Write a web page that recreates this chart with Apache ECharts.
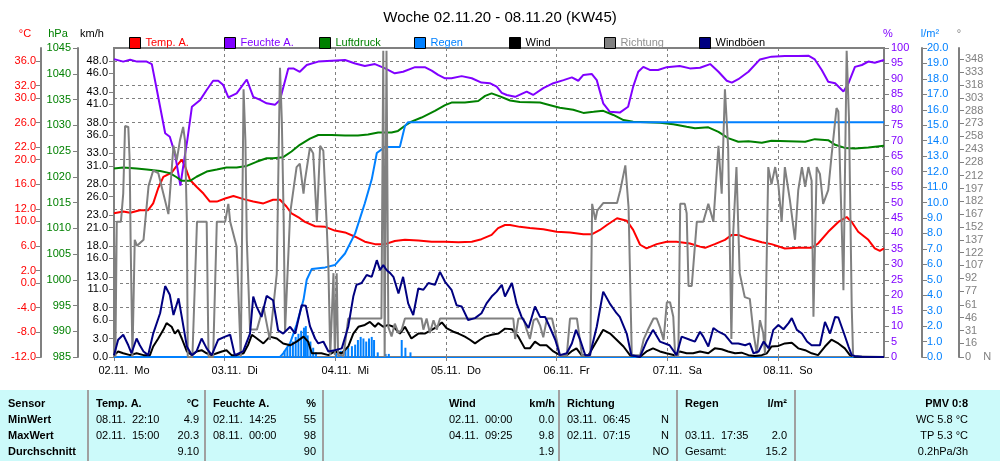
<!DOCTYPE html>
<html lang="de">
<head>
<meta charset="UTF-8">
<title>Woche 02.11.20 - 08.11.20 (KW45)</title>
<script src="https://cdn.jsdelivr.net/npm/echarts@6/dist/echarts.min.js"></script>
<style>
  html, body { margin: 0; padding: 0; background: #fff; }
  #chart { width: 1000px; height: 461px; }
</style>
</head>
<body>
<div id="chart"></div>
<script>
// x = Stunden ab 02.11. 00:00
var dayLabels = ['02.11.  Mo', '03.11.  Di', '04.11.  Mi', '05.11.  Do', '06.11.  Fr', '07.11.  Sa', '08.11.  So'];

// Achsen-Beschriftungen
var tempTicks = [36, 32, 30, 26, 22, 20, 16, 12, 10, 6, 2, 0, -4, -8, -12];
var windTicks = [0, 3, 6, 8, 11, 13, 16, 18, 21, 23, 26, 28, 31, 33, 36, 38, 41, 43, 46, 48];
var dirTicks = [0, 16, 31, 46, 61, 77, 92, 107, 122, 137, 152, 167, 182, 197, 212, 228, 243, 258, 273, 288, 303, 318, 333, 348];

// Temp. A. (°C)
var temperature = [[0,11.3],[2,11.6],[3.5,11.4],[5.6,11.8],[7.4,11.8],[8.5,12.9],[9.6,15.4],[10.7,17.2],[12.5,17.9],[13.6,19.0],[14.7,20.0],[15.4,18.9],[16.5,16.7],[17.9,15.6],[19.4,14.5],[20.8,13.2],[22.3,13.2],[24.1,13.7],[25.9,14.1],[28.1,13.6],[30.2,13.2],[32.4,12.9],[34.5,13.5],[36,13.5],[37.4,12.4],[38.5,11.3],[40.3,10.5],[41.4,9.9],[43.6,9.2],[45.8,9.1],[47.9,8.5],[50.1,8.2],[52.3,7.5],[54.4,6.7],[56.6,6.3],[58.8,6.3],[60.9,6.8],[63.1,7.0],[66,6.9],[68.9,6.7],[71.8,6.7],[74.7,6.6],[77.6,6.7],[79.7,7.1],[81.9,7.8],[83.3,8.9],[84.8,9.4],[85.9,9.4],[88,9.1],[90.2,8.9],[93.1,8.7],[96,8.3],[98.9,8.2],[101.8,7.9],[103.6,7.9],[105.4,8.6],[106.9,9.4],[109.1,10.5],[111.2,10.1],[112.6,8.6],[114.1,6.2],[115.5,5.6],[117.7,6.3],[119.9,6.7],[122,6.7],[124.9,6.4],[127.1,5.9],[128.2,5.7],[130.3,6.3],[132.5,7.0],[134,7.8],[135.4,7.8],[137.6,7.2],[140.5,6.6],[142.6,6.3],[145.5,5.6],[148.4,5.7],[151.3,5.7],[152.7,6.4],[154.9,8.3],[157.1,9.9],[158.9,10.7],[160,9.9],[161.4,8.3],[163.6,7.0],[165,5.6],[166.1,5.2],[167,5.6]];

// Feuchte A. (%)
var humidity = [[0,96.4],[2,95.6],[3.5,96.2],[5,95.6],[7.1,95.6],[8.2,94.8],[9.3,86.4],[11.1,72.4],[12.1,71.3],[13.2,65.9],[14.4,55.5],[15,61.6],[15.9,70.2],[16.9,81.0],[18.7,83.2],[20.1,86.4],[21.5,89.4],[22.6,89.4],[23.7,88.0],[24.8,84.0],[26.6,85.3],[28.8,89.8],[30.2,84.2],[31.7,83.2],[33.1,82.1],[34.9,81.6],[36,83.2],[37.8,93.4],[38.9,93.4],[40.3,92.3],[41.8,94.5],[44.3,95.6],[47.2,95.9],[50.1,96.1],[52.3,95.0],[54.4,94.2],[56.6,94.8],[58.8,93.4],[60.9,91.8],[62.7,92.3],[65.3,93.8],[67.4,93.8],[68.9,92.7],[70.3,91.3],[71.8,90.2],[73.2,90.2],[75.4,90.9],[77.6,90.2],[79.7,88.8],[81.5,88.6],[83,87.5],[84.1,85.5],[85.2,84.8],[87,84.2],[89.5,85.9],[90.9,84.8],[93.1,87.0],[95.3,88.6],[97.5,89.6],[99.3,90.5],[100.7,89.4],[101.8,91.3],[103.6,91.6],[104.7,89.6],[106.1,82.1],[107.5,79.4],[109.7,79.1],[111.5,81.0],[112.6,87.5],[113.7,92.3],[114.8,93.9],[116.2,92.9],[118,92.9],[119.9,93.8],[122.7,94.2],[124.9,93.4],[127.1,93.6],[129.3,94.8],[131.1,92.3],[132.9,89.4],[134,88.8],[135.4,89.9],[137.6,92.3],[140.1,96.3],[142.6,97.2],[145.5,97.4],[148.4,97.4],[150.6,97.5],[152,96.3],[153.5,92.9],[154.9,89.1],[156.4,88.6],[158.2,85.9],[159.3,88.6],[160.7,93.9],[162.2,94.5],[163.6,95.6],[165,95.2],[167,96.1]];

// Luftdruck (hPa)
var pressure = [[0,1021.6],[2,1021.8],[4.9,1021.6],[7.1,1021.4],[10,1021.1],[12.1,1020.7],[13.6,1019.9],[14.7,1019.2],[16.5,1019.2],[17.9,1020.0],[20.1,1021.0],[22.3,1021.4],[24.4,1021.8],[26.6,1021.8],[28.8,1022.1],[30.9,1022.9],[33.1,1023.6],[34.5,1023.6],[36.7,1023.8],[38.5,1024.9],[40.3,1026.2],[42.5,1027.4],[44.3,1028.1],[47.2,1028.1],[50.1,1028.0],[52.9,1028.0],[55.1,1028.2],[57.3,1028.6],[60.2,1028.6],[61.6,1028.9],[63.1,1029.9],[64.5,1030.7],[66.7,1031.5],[69.6,1032.8],[71.8,1033.9],[73.2,1034.4],[76.1,1034.4],[79,1034.7],[80.5,1035.7],[81.9,1036.2],[83.7,1035.6],[85.9,1034.8],[88,1034.5],[92.4,1034.4],[94.6,1033.9],[96.7,1033.4],[99.6,1033.0],[101.8,1032.4],[104,1032.6],[106.1,1032.8],[108.3,1032.0],[110.5,1031.0],[112.6,1030.7],[115.5,1030.6],[118.4,1030.5],[121.3,1030.2],[124.2,1029.7],[126,1029.4],[128.9,1029.6],[131.1,1028.7],[133.2,1027.5],[135.4,1026.8],[137.6,1026.9],[140.5,1026.6],[142.6,1027.0],[146.2,1026.9],[149.9,1026.8],[152,1027.3],[154.9,1027.1],[156.4,1026.2],[158.5,1025.6],[160.7,1025.5],[163.6,1025.7],[167,1026.0]];

// Regen Summe (l/m²)
var rainSum = [[0,0],[36,0],[36.7,0.24],[38.2,0.9],[39.6,2.1],[41.1,3.7],[41.8,5.0],[42.9,5.7],[45.8,5.8],[47.9,5.95],[50.1,6.7],[52.3,8.0],[54.4,9.95],[55.9,11.5],[57,13.2],[58.8,13.6],[62,13.6],[63.1,14.95],[63.8,15.2],[167,15.2]];

// Regen je Intervall
var rainRate = [[37.0,0.4],[37.6,0.6],[38.2,0.8],[38.8,1.0],[39.4,1.3],[40.0,1.5],[40.6,1.7],[41.2,1.9],[41.6,2.0],[42.0,1.4],[42.6,1.0],[43.2,0.6],[43.8,0.3],[48.2,0.3],[49.2,0.4],[50.2,0.5],[50.8,0.6],[51.6,0.7],[52.3,0.8],[52.9,1.1],[53.5,1.3],[54.1,1.2],[54.7,1.0],[55.3,1.2],[55.9,1.3],[56.4,1.1],[57.2,0.3],[58.9,0.2],[59.6,0.2],[62.4,1.1],[63.2,0.6],[64.3,0.3]];

// Wind (km/h)
var wind = [[0,0.3],[0.9,0.9],[2,0.6],[3.5,0.3],[4.9,0.6],[6.4,0.3],[7.8,0.3],[8.5,1.7],[9.6,3.0],[10.7,4.4],[11.4,5.5],[12.5,4.9],[13.2,3.8],[13.9,4.4],[14.7,3.0],[15.8,0.9],[16.9,0.3],[17.9,0.9],[19,1.1],[20.1,0.6],[21.2,0.3],[22.3,0.6],[23.4,0.9],[24.4,1.1],[25.5,0.3],[26.6,0.3],[28.1,0.6],[29.1,2.0],[29.9,3.6],[31,3.0],[32.4,2.2],[33.8,3.3],[35.3,3.0],[36.7,2.2],[38.2,1.9],[39.6,2.5],[41.1,3.3],[42.1,2.5],[42.9,0.6],[45,0.6],[46.5,0.3],[47.9,0.9],[49.4,0.6],[50.8,1.7],[51.9,3.8],[53,4.9],[54.4,5.2],[55.5,5.7],[56.6,4.9],[57.3,5.5],[58.4,4.9],[59.5,5.2],[60.6,4.9],[62,3.8],[63.1,4.9],[64.5,3.0],[66,3.8],[67.4,3.8],[68.9,4.4],[70,4.9],[71.1,5.6],[72.1,4.7],[73.6,4.1],[74.7,3.8],[76.1,3.3],[77.2,2.8],[78.3,2.2],[79.4,2.8],[80.5,3.3],[81.9,3.6],[83.4,3.8],[84.8,4.6],[86.3,4.5],[87.7,3.3],[89.1,1.4],[90.2,1.4],[91.3,2.5],[92.4,1.9],[93.8,1.9],[95.3,0.9],[96.7,0.3],[98.2,0.3],[99.2,0.9],[100.3,1.4],[101.4,0.3],[102.9,0.3],[104,1.7],[105,3.0],[106.1,4.4],[107.6,3.8],[109,2.8],[110.5,1.7],[111.9,0.3],[114.1,0.05],[115.5,0.9],[116.9,1.4],[118.4,0.9],[119.8,0.6],[121.6,0.3],[122.7,0.9],[124.2,0.6],[125.6,0.6],[127.1,0.9],[128.9,0.6],[130.3,1.4],[131.8,1.25],[133.2,0.9],[134.7,0.6],[136.1,0.7],[137.6,0.3],[139,0.16],[140.5,0.3],[141.6,0.6],[142.6,1.7],[144.1,1.8],[145.5,2.2],[147,2.3],[148.4,1.4],[149.9,1.1],[151.3,0.6],[152.7,0.3],[154.2,1.7],[155.6,2.8],[157.1,2.2],[158.5,1.4],[159.6,0.3],[160.7,0.05],[162.2,0.05],[167,0]];

// Windböen (km/h)
var gusts = [[0,0.3],[0.9,2.8],[2,3.6],[3.1,1.9],[3.8,0.6],[4.9,3.0],[5.6,1.9],[6.4,0.9],[7.4,0.3],[8.5,3.8],[10,7.1],[11.1,11.5],[12.1,10.1],[12.9,6.8],[14,9.5],[14.7,6.5],[15.8,1.7],[16.9,0.3],[17.9,0.9],[19,3.0],[20.1,1.4],[21.2,0.3],[22.6,2.8],[24.1,3.3],[25.2,3.6],[26.2,0.3],[28,0.9],[29.5,3.8],[30.2,9.8],[30.9,8.2],[32,6.5],[33.1,9.9],[34.5,9.2],[35.6,4.3],[36.7,3.8],[38.2,4.9],[39.3,3.8],[40.7,8.4],[41.6,8.3],[42.5,5.0],[43.6,3.0],[44.3,2.2],[45.4,2.5],[46.5,0.9],[47.9,1.1],[49.4,1.4],[50.8,4.9],[51.9,9.8],[52.6,11.7],[53.7,12.0],[54.8,13.3],[55.9,13.0],[57,15.7],[57.7,14.1],[58.4,14.9],[59.1,14.1],[59.9,13.6],[60.6,13.0],[61.7,10.3],[62.7,13.0],[63.8,8.7],[64.9,6.8],[66,11.1],[67.1,10.9],[68.2,12.0],[69.6,11.7],[70.7,13.8],[71.8,12.2],[73.2,10.9],[74.3,8.4],[75.4,8.2],[76.8,6.0],[78.3,6.3],[79.7,7.1],[80.8,8.7],[81.9,9.8],[83,10.6],[84.1,11.7],[84.8,9.8],[86.3,12.0],[87.3,8.7],[88.4,6.5],[89.9,4.7],[91.3,8.2],[92.4,6.5],[93.5,6.5],[94.6,4.7],[95.7,2.8],[96.7,0.3],[98.2,0.6],[99.3,2.2],[100.2,4.4],[101.1,2.8],[102.2,0.3],[103.2,0.3],[104.7,4.9],[106.1,10.6],[107.5,8.7],[109,7.1],[109.7,6.5],[111.2,3.8],[112.2,0.3],[114.1,0.05],[115.5,2.5],[116.9,4.4],[118.4,2.5],[120.5,1.9],[122,0.3],[123.1,3.3],[124.9,2.8],[126,2.5],[127.1,4.1],[127.8,3.3],[128.9,1.7],[130,4.7],[131.1,4.1],[132.5,3.6],[134,2.2],[135.4,2.2],[136.9,1.9],[137.9,2.2],[138.7,0.6],[139.8,0.9],[140.9,2.5],[142,1.4],[143,4.4],[144.1,5.2],[145.2,4.5],[146.3,5.5],[147,6.3],[148.1,4.4],[149.2,3.8],[150.3,2.5],[151.3,1.9],[153.1,1.9],[154.2,5.7],[155.3,3.8],[156.4,6.5],[157.1,6.4],[158.2,4.1],[159.3,1.7],[160,0.3],[160.7,0.16],[162.2,0.05],[167,0]];

// Richtung (°)
var direction = [[0,158],[0.3,0],[0.6,158],[1.5,158],[2.0,191],[2.4,270],[3.1,269],[3.4,230],[3.6,137],[4.0,0],[4.5,137],[5.0,130],[6.4,137],[7.5,200],[8.5,218],[9.6,215],[10.7,191],[11.8,167],[12.5,218],[12.9,247],[13.6,230],[14.3,253],[15.0,269],[15.4,253],[15.8,160],[16.0,0],[17.0,0],[18.0,158],[20.1,158],[20.5,0],[21.5,0],[22.3,158],[24.1,158],[24.5,170],[24.8,179],[25.2,158],[26.6,129],[27.5,0],[28.1,313],[28.5,253],[28.8,137],[29.5,32],[31.0,32],[32.4,59],[33.8,20],[35.3,97],[36.0,338],[36.4,276],[36.8,160],[37.1,30],[38.2,168],[39.6,222],[40.3,226],[41.1,191],[41.4,206],[42.5,245],[43.2,238],[44.0,158],[44.7,247],[45.4,241],[46.1,158],[46.5,105],[46.9,2],[47.6,98],[47.9,2],[48.3,98],[48.6,2],[49.8,2],[50.8,45],[58.0,45],[58.4,358],[58.7,0],[59.1,358],[59.5,35],[60.2,24],[60.9,39],[61.7,28],[62.4,32],[63.1,45],[66.7,45],[67.1,32],[67.8,45],[68.5,28],[69.3,43],[70.0,32],[70.7,45],[84.8,45],[86.6,45],[87,21],[87.7,45],[88.8,45],[89.5,32],[90.2,21],[91,43],[91.7,45],[92.4,37],[93.1,23],[93.9,45],[95,45],[95.7,28],[96.7,2],[98.2,2],[98.9,45],[100.4,45],[101.5,2],[103.3,2],[103.7,179],[104.4,160],[104.8,171],[106.1,180],[109.1,180],[109.8,195],[110.9,224],[111.2,224],[111.6,175],[112.3,2],[114.1,2],[114.9,21],[115.9,33],[117,45],[117.7,45],[118.4,35],[119.2,20],[119.9,64],[120.6,64],[121.3,47],[121.7,2],[122.4,2],[122.8,179],[123.8,179],[124.2,168],[124.6,83],[125.3,83],[125.7,110],[126.4,158],[126.8,156],[127.8,158],[128.9,179],[130,158],[131.1,247],[131.8,191],[132.5,313],[132.9,315],[133.2,245],[133.9,21],[134.3,145],[135,222],[135.7,98],[136.8,70],[137.9,68],[138.7,28],[139.4,4],[140.1,43],[140.8,28],[141.2,4],[141.9,222],[142.6,202],[143.4,222],[144.1,201],[144.8,158],[145.5,222],[146.6,183],[147.7,137],[148.4,195],[149.2,222],[149.9,199],[150.6,222],[151.3,206],[151.7,47],[152.4,222],[153.1,214],[153.8,179],[154.9,195],[155.6,234],[156.7,291],[157.1,287],[157.8,158],[158.2,78],[158.5,200],[158.9,358],[159.4,280],[160,59],[160.3,0]];

var legendNames = ['Temp. A.', 'Feuchte A.', 'Luftdruck', 'Regen', 'Wind', 'Richtung', 'Windböen'];
var legendText = ['#ff0000', '#8000ff', '#008000', '#0080ff', '#000000', '#909090', '#000000'];

var chartDom = document.getElementById('chart');
var myChart = echarts.init(chartDom, null, {renderer: 'canvas'});

var FONT = 'Liberation Sans';
var axisGray = '#808080';

function lineSeries(name, data, color, yIdx) {
    return {
        name: name,
        type: 'line',
        data: data,
        yAxisIndex: yIdx,
        symbol: 'none',
        smooth: false,
        itemStyle: {color: color},
        lineStyle: {color: color, width: 2},
        emphasis: {disabled: true}
    };
}

function yAxis(pos, offset, min, max, color, name, nameShift, extra) {
    var ax = {
        type: 'value',
        position: pos,
        offset: offset,
        min: min,
        max: max,
        name: name,
        nameLocation: 'end',
        nameGap: 9,
        nameTextStyle: {
            color: color, fontSize: 11, fontFamily: FONT,
            padding: nameShift < 0 ? [0, -2 * nameShift, 0, 0] : [0, 0, 0, 2 * nameShift]
        },
        axisLine: {show: true, lineStyle: {color: axisGray, width: 2}},
        axisTick: {show: true, length: 5, lineStyle: {color: axisGray, width: 1}},
        axisLabel: {color: color, fontSize: 11, fontFamily: FONT, margin: 6},
        splitLine: {show: false}
    };
    for (var k in extra) {
        if (typeof extra[k] === 'object' && ax[k]) {
            for (var j in extra[k]) ax[k][j] = extra[k][j];
        } else {
            ax[k] = extra[k];
        }
    }
    return ax;
}

// Tabelle unten
var rowY = [404, 420, 436, 452];
var tableCells = [
    // [text, x, row, align, bold]
    ['Sensor', 8, 0, 'left', true], ['MinWert', 8, 1, 'left', true], ['MaxWert', 8, 2, 'left', true], ['Durchschnitt', 8, 3, 'left', true],
    ['Temp. A.', 96, 0, 'left', true], ['°C', 199, 0, 'right', true],
    ['08.11.  22:10', 96, 1, 'left'], ['4.9', 199, 1, 'right'],
    ['02.11.  15:00', 96, 2, 'left'], ['20.3', 199, 2, 'right'],
    ['9.10', 199, 3, 'right'],
    ['Feuchte A.', 213, 0, 'left', true], ['%', 316, 0, 'right', true],
    ['02.11.  14:25', 213, 1, 'left'], ['55', 316, 1, 'right'],
    ['08.11.  00:00', 213, 2, 'left'], ['98', 316, 2, 'right'],
    ['90', 316, 3, 'right'],
    ['Wind', 449, 0, 'left', true], ['km/h', 555, 0, 'right', true],
    ['02.11.  00:00', 449, 1, 'left'], ['0.0', 554, 1, 'right'],
    ['04.11.  09:25', 449, 2, 'left'], ['9.8', 554, 2, 'right'],
    ['1.9', 554, 3, 'right'],
    ['Richtung', 567, 0, 'left', true],
    ['03.11.  06:45', 567, 1, 'left'], ['N', 669, 1, 'right'],
    ['02.11.  07:15', 567, 2, 'left'], ['N', 669, 2, 'right'],
    ['NO', 669, 3, 'right'],
    ['Regen', 685, 0, 'left', true], ['l/m²', 787, 0, 'right', true],
    ['03.11.  17:35', 685, 2, 'left'], ['2.0', 787, 2, 'right'],
    ['Gesamt:', 685, 3, 'left'], ['15.2', 787, 3, 'right'],
    ['PMV 0:8', 968, 0, 'right', true], ['WC 5.8 °C', 968, 1, 'right'],
    ['TP 5.3 °C', 968, 2, 'right'], ['0.2hPa/3h', 968, 3, 'right']
];
var tableSeparators = [88, 205, 323, 559, 677, 795];

var graphics = [{
    type: 'rect', silent: true, z: 0,
    shape: {x: 0, y: 390, width: 1000, height: 71},
    style: {fill: '#ccfafa'}
}];
tableSeparators.forEach(function (x) {
    graphics.push({
        type: 'line', silent: true, z: 1,
        shape: {x1: x, y1: 390, x2: x, y2: 461},
        style: {stroke: '#a0a0a0', lineWidth: 2}
    });
});
tableCells.forEach(function (c) {
    graphics.push({
        type: 'text', silent: true, z: 2,
        x: c[1], y: rowY[c[2]],
        style: {
            text: c[0], fill: '#000',
            font: (c[4] ? 'bold ' : '') + '11px ' + FONT,
            align: c[3], verticalAlign: 'middle'
        }
    });
});

var legends = legendNames.map(function (n, i) {
    return {
        data: [n],
        left: 124 + 95 * i,
        top: 32,
        icon: 'rect',
        itemWidth: 11,
        itemHeight: 11,
        itemStyle: {borderColor: '#000', borderWidth: 1},
        textStyle: {color: legendText[i], fontSize: 11, fontFamily: FONT},
        selectedMode: false
    };
});

var option = {
    animation: false,
    backgroundColor: '#ffffff',
    textStyle: {fontFamily: FONT},
    title: {
        text: 'Woche 02.11.20 - 08.11.20 (KW45)',
        left: 'center',
        top: 5,
        textStyle: {fontSize: 15, fontWeight: 'normal', color: '#000', fontFamily: FONT}
    },
    legend: legends,
    grid: {
        left: 114, right: 116, top: 48, bottom: 104,
        show: true, borderColor: axisGray, borderWidth: 2,
        containLabel: false
    },
    xAxis: {
        type: 'value',
        min: 0,
        max: 167,
        interval: 24,
        axisLine: {show: true, onZero: false, lineStyle: {color: '#0080ff', width: 1}},
        axisTick: {show: true, length: 4, lineStyle: {color: axisGray}},
        axisLabel: {
            color: '#000', fontSize: 11, fontFamily: FONT, margin: 8,
            showMaxLabel: false,
            padding: [0, 0, 0, 20],
            formatter: function (v) { return dayLabels[Math.round(v / 24)] || ''; }
        },
        splitLine: {show: true, lineStyle: {color: axisGray, type: [3, 3], width: 1}}
    },
    yAxis: [
        yAxis('left', 0, 0, 50.1, '#000', 'km/h', -22, {
            axisTick: {customValues: windTicks},
            axisLabel: {customValues: windTicks, formatter: function (v) { return v.toFixed(1); }}
        }),
        yAxis('left', 36, 985, 1045, '#008000', 'hPa', -20, {
            interval: 5,
            axisLabel: {margin: 7, formatter: function (v) { return String(v); }}
        }),
        yAxis('left', 73, -12, 38.1, '#ff0000', '°C', -16, {
            axisTick: {customValues: tempTicks},
            axisLabel: {customValues: tempTicks, margin: 5, formatter: function (v) { return v.toFixed(1); }},
            splitLine: {show: true, lineStyle: {color: axisGray, type: [3, 3], width: 1}}
        }),
        yAxis('right', 0, 0, 100, '#8000ff', '%', 4, {
            interval: 5,
            axisLabel: {margin: 7}
        }),
        yAxis('right', 38, 0, 20, '#0080ff', 'l/m²', 8, {
            interval: 1,
            axisLabel: {margin: 5, formatter: function (v) { return v.toFixed(1); }}
        }),
        yAxis('right', 75, 0, 361.2, '#808080', '°', 0, {
            axisTick: {customValues: dirTicks},
            axisLabel: {customValues: dirTicks, formatter: function (v) { return v === 0 ? '0    N' : String(v); }}
        })
    ],
    series: [
        {
            name: 'Regenrate',
            type: 'bar',
            data: rainRate,
            yAxisIndex: 4,
            barWidth: 2,
            itemStyle: {color: '#0080ff'},
            emphasis: {disabled: true}
        },
        lineSeries('Temp. A.', temperature, '#ff0000', 2),
        lineSeries('Feuchte A.', humidity, '#8000ff', 3),
        lineSeries('Luftdruck', pressure, '#008000', 1),
        lineSeries('Regen', rainSum, '#0080ff', 4),
        lineSeries('Wind', wind, '#000000', 0),
        lineSeries('Richtung', direction, '#808080', 5),
        lineSeries('Windböen', gusts, '#000080', 0)
    ],
    graphic: graphics
};

option && myChart.setOption(option);
</script>
</body>
</html>
